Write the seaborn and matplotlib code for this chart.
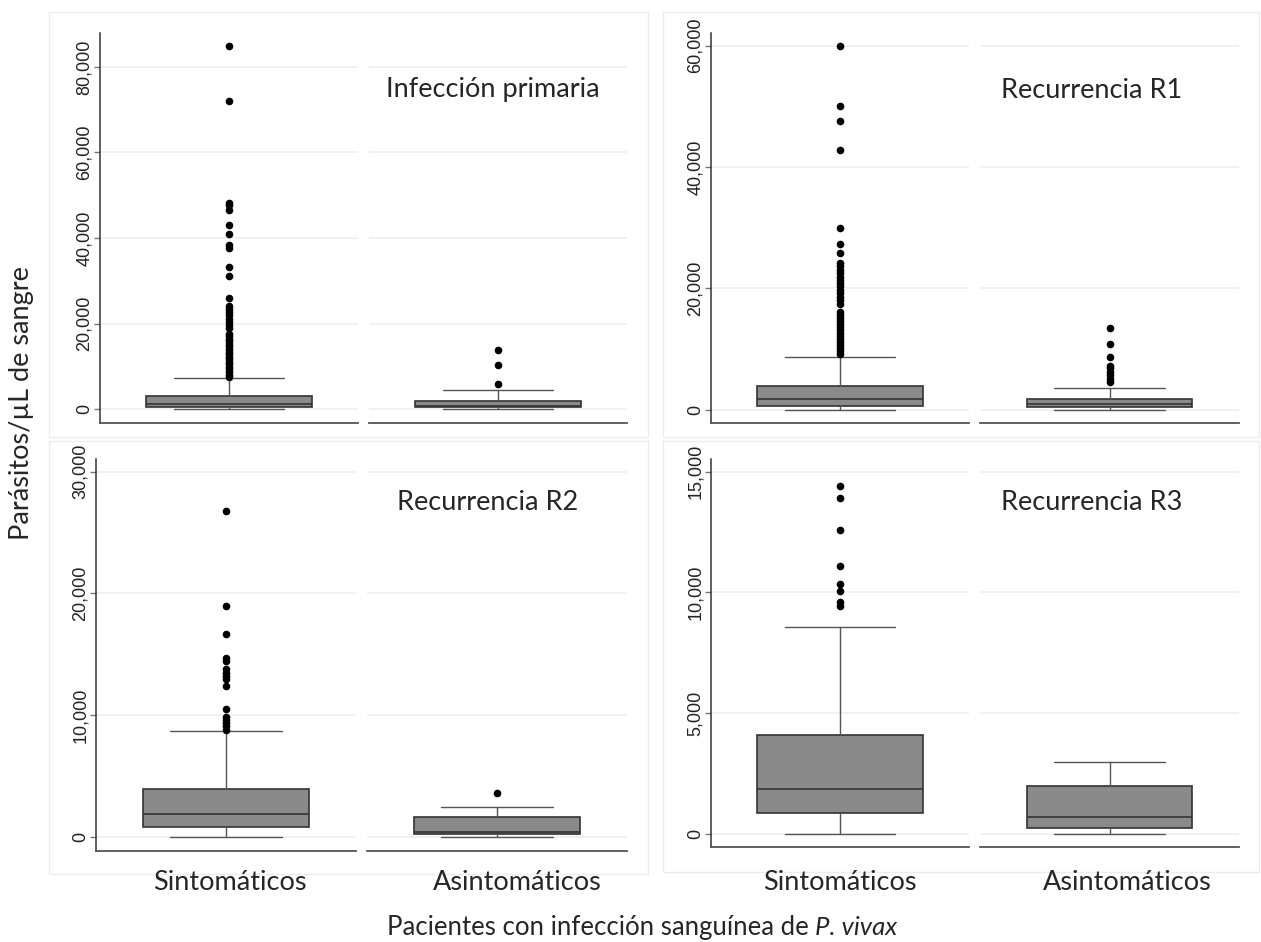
import numpy as np
import matplotlib
matplotlib.use("Agg")
import matplotlib.pyplot as plt
import seaborn as sns
from matplotlib.patches import Rectangle
from matplotlib.ticker import FuncFormatter

sns.set_style("white")

groups = ["Sintomáticos", "Asintomáticos"]
panel_titles = ["Infección primaria", "Recurrencia R1", "Recurrencia R2", "Recurrencia R3"]

# box stats: (whislo, q1, median, q3, whishi)
prim_sint = (0, 470, 1170, 3110, 7240)
prim_asint = (0, 470, 780, 2020, 4510)
r1_sint = (0, 660, 1820, 3850, 8750)
r1_asint = (0, 390, 940, 1820, 3630)
r2_sint = (0, 820, 1890, 3940, 8700)
r2_asint = (0, 270, 470, 1640, 2460)
r3_sint = (0, 900, 1860, 4090, 8570)
r3_asint = (30, 250, 700, 1990, 2990)

# outliers
prim_sint_out = [84800, 72000, 48300, 47800, 46500, 43000, 40900, 38400, 37600,
                 33300, 31100, 26100, 24100, 23400, 22800, 22000, 21200, 20500,
                 19700, 18900, 17700, 17100, 16500, 15900, 15300, 14700, 14100,
                 13500, 12900, 12300, 11700, 11100, 10500, 9900, 9300, 8700,
                 8100, 7600]
prim_asint_out = [13900, 10400, 5900]
r1_sint_out = [60000, 50000, 47600, 42800, 29900, 27300, 25800, 24100, 23600,
               23000, 22500, 21900, 21400, 20800, 20300, 19700, 19200, 18600,
               18100, 17400, 16100, 15600, 15100, 14600, 14100, 13600, 13100,
               12600, 12100, 11600, 11100, 10600, 10100, 9600, 9100]
r1_asint_out = [13500, 10800, 8750, 7200, 6800, 6200, 5700, 5100, 4600]
r2_sint_out = [26800, 19000, 16700, 14700, 14500, 13800, 13500, 13200, 13000,
               12400, 10500, 9900, 9600, 9400, 9100, 8800]
r2_asint_out = [3660]
r3_sint_out = [14400, 13900, 12600, 11100, 10350, 10050, 9600, 9450]
r3_asint_out = []

panel_stats = [(prim_sint, prim_asint), (r1_sint, r1_asint),
               (r2_sint, r2_asint), (r3_sint, r3_asint)]
panel_out = [(prim_sint_out, prim_asint_out), (r1_sint_out, r1_asint_out),
             (r2_sint_out, r2_asint_out), (r3_sint_out, r3_asint_out)]
panel_ticks = [[0, 20000, 40000, 60000, 80000],
               [0, 20000, 40000, 60000],
               [0, 10000, 20000, 30000],
               [0, 5000, 10000, 15000]]
panel_ylim = [(-3200, 87900), (-2210, 62100), (-1120, 31030), (-525, 15520)]

W, H = 1261, 942
fig = plt.figure(figsize=(W / 100, H / 100), dpi=100)

# layout in pixels: (left sub x0, x1), (right sub x0, x1), (top, bottom)
layout = [((100, 358), (369, 627), (33, 423)),
          ((711, 969), (980, 1239), (33, 423)),
          ((96, 356), (367, 627), (459, 851)),
          ((711, 969), (980, 1239), (459, 847))]
frames = [(49, 12, 648, 437), (663, 12, 1259, 437),
          (49, 441, 648, 874), (663, 441, 1259, 872)]
title_pos = [(493, 90), (1092, 91), (488, 503), (1092, 503)]

grid_col = "#eaf0f2"
frame_col = "#e6eef0"
tick_font = "Liberation Sans"
txt_font = ["Lato", "DejaVu Sans"]

for x0, y0, x1, y1 in frames:
    fig.patches.append(Rectangle((x0 / W, 1 - y1 / H), (x1 - x0) / W, (y1 - y0) / H,
                                 transform=fig.transFigure, fill=False,
                                 edgecolor=frame_col, lw=1.0, zorder=0))

fmt = FuncFormatter(lambda v, p: f"{v:,.0f}")

for i in range(4):
    (lx0, lx1), (rx0, rx1), (yt, yb) = layout[i]
    for j, (x0, x1) in enumerate([(lx0, lx1), (rx0, rx1)]):
        ax = fig.add_axes([x0 / W, 1 - yb / H, (x1 - x0) / W, (yb - yt) / H])
        s = panel_stats[i][j]
        stats = dict(whislo=s[0], q1=s[1], med=s[2], q3=s[3], whishi=s[4], fliers=[])
        ax.bxp([stats], positions=[0], widths=0.64, capwidths=0.43,
               patch_artist=True, showfliers=False,
               boxprops=dict(facecolor="#8a8a8a", edgecolor="#333333", lw=1.2),
               medianprops=dict(color="#333333", lw=1.2),
               whiskerprops=dict(color="#555555", lw=1),
               capprops=dict(color="#555555", lw=1))
        out = panel_out[i][j]
        if len(out):
            sns.stripplot(x=np.zeros(len(out)), y=out, native_scale=True, orient="v",
                          jitter=False, color="black", size=5.5, linewidth=0,
                          ax=ax, zorder=4)
        ax.set_xlim(-0.5, 0.5)
        ax.set_ylim(*panel_ylim[i])
        ax.set_yticks(panel_ticks[i])
        ax.yaxis.set_major_formatter(fmt)
        ax.set_xticks([])
        ax.set_xlabel("")
        ax.set_ylabel("")
        ax.yaxis.grid(True, color=grid_col, lw=1.2)
        ax.set_axisbelow(True)
        sns.despine(ax=ax, top=True, right=True, left=(j == 1))
        ax.spines["bottom"].set_color("#555555")
        ax.spines["bottom"].set_linewidth(1.3)
        if j == 0:
            ax.spines["left"].set_color("#333333")
            ax.spines["left"].set_linewidth(1.1)
            ax.tick_params(axis="y", length=4, width=1, color="#777777", pad=1,
                           left=True, labelsize=13, labelcolor="#222222")
            for t in ax.get_yticklabels():
                t.set_rotation(90)
                t.set_va("center")
                t.set_family(tick_font)
        else:
            ax.tick_params(axis="y", left=False, labelleft=False)
    tx, ty = title_pos[i]
    fig.text(tx / W, 1 - ty / H, panel_titles[i], ha="center", va="center",
             fontsize=19.5, family=txt_font)

# group labels under each column
for cx, lab in zip([230, 517, 840, 1127], groups * 2):
    fig.text(cx / W, 1 - 890 / H, lab, ha="center", va="baseline",
             fontsize=19.5, family=txt_font)

fig.text(22 / W, 1 - 403 / H, "Parásitos/µL de sangre", rotation=90,
         ha="center", va="center", fontsize=19.5, family=txt_font)

# x title: plain part + italic species name, centred together
renderer = fig.canvas.get_renderer()
part1 = fig.text(0, 1 - 935 / H, "Pacientes con infección sanguínea de ",
                 ha="left", va="baseline", fontsize=18.5, family=txt_font)
part2 = fig.text(0, 1 - 935 / H, "P. vivax", ha="left", va="baseline",
                 fontsize=18.5, family=txt_font, style="italic")
w1 = part1.get_window_extent(renderer).width
w2 = part2.get_window_extent(renderer).width
start = 642 - (w1 + w2) / 2
part1.set_x(start / W)
part2.set_x((start + w1) / W)

fig.savefig("out.png", dpi=100, facecolor="white")
